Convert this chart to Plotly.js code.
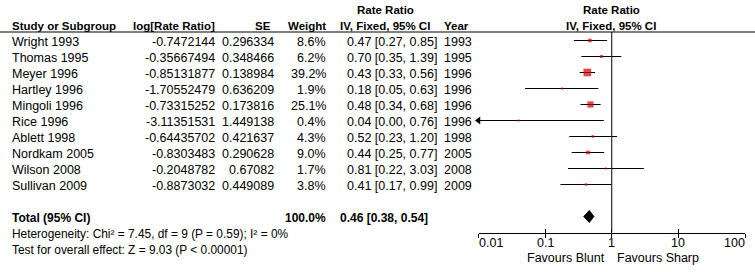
<!DOCTYPE html>
<html>
<head>
<meta charset="utf-8">
<script src="https://cdn.plot.ly/plotly-3.0.1.min.js"></script>
<style>html,body{margin:0;padding:0;background:#fff;}#chart{width:755px;height:272px;}</style>
</head>
<body>
<div id="chart"></div>
<script>
// ---- data ----
const studies = ['Wright 1993','Thomas 1995','Meyer 1996','Hartley 1996','Mingoli 1996','Rice 1996','Ablett 1998','Nordkam 2005','Wilson 2008','Sullivan 2009'];
const logRR = [-0.7472144,-0.35667494,-0.85131877,-1.70552479,-0.73315252,-3.11351531,-0.64435702,-0.8303483,-0.2048782,-0.8873032];
const se = [0.296334,0.348466,0.138984,0.636209,0.173816,1.449138,0.421637,0.290628,0.67082,0.449089];
const weights = [8.6,6.2,39.2,1.9,25.1,0.4,4.3,9.0,1.7,3.8];
const rr = [0.47,0.70,0.43,0.18,0.48,0.04,0.52,0.44,0.81,0.41];
const ciLo = [0.27,0.35,0.33,0.05,0.34,0.00,0.23,0.25,0.22,0.17];
const ciHi = [0.85,1.39,0.56,0.63,0.68,0.76,1.20,0.77,3.03,0.99];
const years = [1993,1995,1996,1996,1996,1996,1998,2005,2008,2009];
const totalLabel = 'Total (95% CI)';
const totalWeight = 100.0;
const totalRR = 0.46, totalLo = 0.38, totalHi = 0.54;
const heterogeneityText = 'Heterogeneity: Chi\u00b2 = 7.45, df = 9 (P = 0.59); I\u00b2 = 0%';
const overallText = 'Test for overall effect: Z = 9.03 (P < 0.00001)';
const tickVals = [0.01,0.1,1,10,100];
const tickText = ['0.01','0.1','1','10','100'];
const favLeft = 'Favours Blunt', favRight = 'Favours Sharp';

// ---- layout helpers ----
const W = 755, H = 272;
const FONT = 'Liberation Sans, Arial, sans-serif';
const BODY = 12.5, HEAD = 11.5, FOOT = 11.9;
const row0 = 40.5, rowH = 16;                 // pixel of first row, row height
const yOfPx = p => (p - row0) / rowH;          // pixel -> row units
const paperY = p => 1 - p / H;
const xMin = 0.01;
const rows = studies.map((s, i) => i);
const totalRow = studies.length + 1;

const ann = [];
function txt(text, xpx, row, anchor, bold, size) {
  ann.push({
    text: bold ? '<b>' + text + '</b>' : text,
    x: xpx / W, xref: 'paper', y: row, yref: 'y',
    xanchor: anchor, yanchor: 'middle', showarrow: false, yshift: -1,
    font: {family: FONT, size: size || (bold ? HEAD : BODY), color: '#000'}
  });
}
// headers
txt('Study or Subgroup', 10, -1, 'left', true);
txt('log[Rate Ratio]', 217, -1, 'right', true);
txt('SE', 273, -1, 'right', true);
txt('Weight', 328, -1, 'right', true);
txt('Rate Ratio', 385, -2, 'center', true);
txt('IV, Fixed, 95% CI', 385, -1, 'center', true);
txt('Year', 442, -1, 'left', true);
txt('Rate Ratio', 611, -2, 'center', true);
txt('IV, Fixed, 95% CI', 611, -1, 'center', true);
// body
studies.forEach((s, i) => {
  txt(s, 10, i, 'left');
  txt(String(logRR[i]), 217, i, 'right');
  txt(String(se[i]), 276, i, 'right');
  txt(weights[i].toFixed(1) + '%', 328, i, 'right');
  txt(rr[i].toFixed(2) + ' [' + ciLo[i].toFixed(2) + ', ' + ciHi[i].toFixed(2) + ']', 345, i, 'left');
  txt(String(years[i]), 442, i, 'left');
});
txt(totalLabel, 10, totalRow, 'left', true, BODY - 0.5);
txt(totalWeight.toFixed(1) + '%', 328, totalRow, 'right', true, BODY - 0.5);
txt(totalRR.toFixed(2) + ' [' + totalLo.toFixed(2) + ', ' + totalHi.toFixed(2) + ']', 338, totalRow, 'left', true, BODY - 0.5);
txt(heterogeneityText, 10, totalRow + 1, 'left', false, FOOT);
txt(overallText, 10, totalRow + 2, 'left', false, FOOT);
txt(favLeft, 607, yOfPx(257), 'right');
txt(favRight, 615, yOfPx(257), 'left');
// axis tick labels (ends kept inside the axis, as in the reference)
tickVals.forEach((v, k) => {
  ann.push({
    text: tickText[k], x: Math.log10(v), xref: 'x', y: yOfPx(242), yref: 'y',
    xanchor: k === 0 ? 'left' : (k === tickVals.length - 1 ? 'right' : 'center'),
    xshift: k === 0 ? -1 : (k === tickVals.length - 1 ? 2 : 0),
    yanchor: 'middle', showarrow: false, yshift: -1,
    font: {family: FONT, size: BODY, color: '#000'}
  });
});

// ---- traces ----
const loClamped = ciLo.map(v => Math.max(v, xMin));
const studyTrace = {
  type: 'scatter', mode: 'markers', x: rr, y: rows,
  marker: {symbol: 'square', color: '#cc0000', size: weights.map(w => Math.max(2, 1.23 * Math.sqrt(w))), line: {width: 0}},
  error_x: {type: 'data', symmetric: false,
    array: ciHi.map((h, i) => h - rr[i]),
    arrayminus: loClamped.map((l, i) => rr[i] - l),
    color: '#000', thickness: 1, width: 0},
  hoverinfo: 'skip'
};
const offIdx = rows.filter(i => ciLo[i] < xMin);
const arrowTrace = {
  type: 'scatter', mode: 'markers', x: offIdx.map(() => xMin), y: offIdx,
  marker: {symbol: 'triangle-left', color: '#000', size: 7}, cliponaxis: false, hoverinfo: 'skip'
};
const dh = 6 / rowH;
const diamond = {
  type: 'scatter', mode: 'lines', fill: 'toself', fillcolor: '#000',
  x: [totalLo, totalRR, totalHi, totalRR, totalLo],
  y: [totalRow, totalRow - dh, totalRow, totalRow + dh, totalRow],
  line: {color: '#000', width: 1}, hoverinfo: 'skip'
};

const axisPx = row0 + rowH * totalRow + rowH; // axis line pixel
const xDomain = [478.5 / W, 745 / W];
const layout = {
  width: W, height: H, margin: {l: 0, r: 0, t: 0, b: 0},
  paper_bgcolor: '#fff', plot_bgcolor: '#fff', showlegend: false,
  font: {family: FONT, size: BODY, color: '#000'},
  xaxis: {type: 'log', range: [-2, 2], domain: xDomain, anchor: 'free', position: paperY(axisPx),
    showline: true, linecolor: '#000', linewidth: 1, showgrid: false, zeroline: false,
    ticks: 'outside', ticklen: 4, tickwidth: 1, tickcolor: '#000',
    tickmode: 'array', tickvals: tickVals, showticklabels: false, fixedrange: true},
  xaxis2: {type: 'log', range: [-2, 2], domain: xDomain, overlaying: 'x', anchor: 'free', position: paperY(axisPx),
    showline: false, showgrid: false, zeroline: false, ticks: 'inside', ticklen: 4, tickwidth: 1, tickcolor: '#000',
    tickmode: 'array', tickvals: tickVals, showticklabels: false, fixedrange: true},
  yaxis: {range: [yOfPx(H), yOfPx(0)], domain: [0, 1], visible: false, fixedrange: true},
  annotations: ann,
  shapes: [
    {type: 'line', xref: 'paper', yref: 'y', x0: 0, x1: 1, y0: yOfPx(32), y1: yOfPx(32), line: {color: '#000', width: 1}},
    {type: 'line', xref: 'x', yref: 'y', x0: 1, x1: 1, y0: yOfPx(32), y1: yOfPx(axisPx), line: {color: '#000', width: 1}}
  ]
};
const dummy = {type: 'scatter', x: [1], y: [0], xaxis: 'x2', mode: 'markers', marker: {opacity: 0}, hoverinfo: 'skip'};
Plotly.newPlot('chart', [dummy, studyTrace, diamond, arrowTrace], layout, {staticPlot: true, displayModeBar: false});
</script>
</body>
</html>
